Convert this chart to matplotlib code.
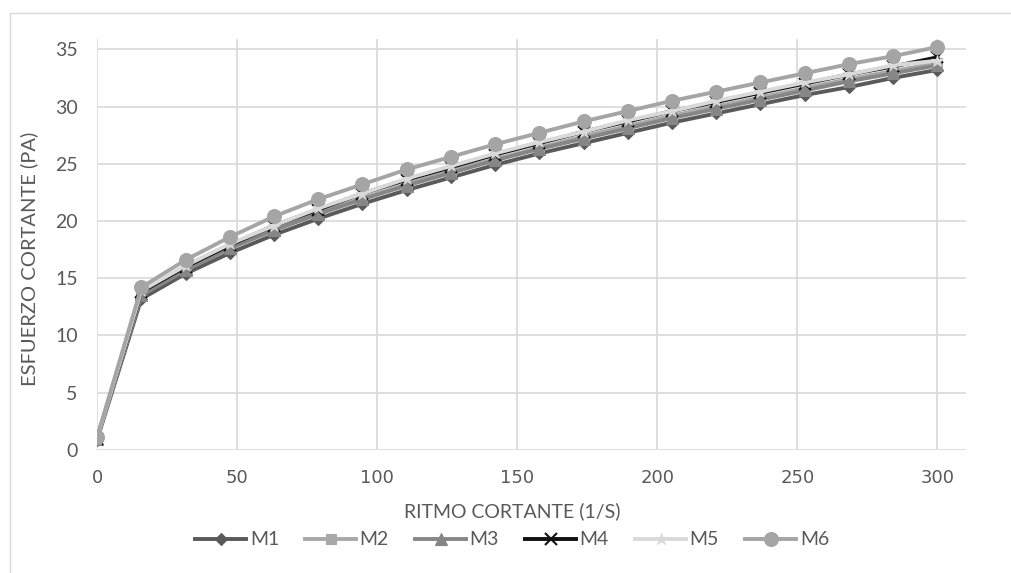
import matplotlib.pyplot as plt
from matplotlib.lines import Line2D

# shear rate (1/s)
rate = [0, 15.8, 31.6, 47.4, 63.2, 78.9, 94.7, 110.5, 126.3, 142.1,
        157.9, 173.7, 189.5, 205.3, 221.1, 236.8, 252.6, 268.4, 284.2, 300]

# shear stress (Pa)
m1 = [0.9, 13.2, 15.4, 17.2, 18.8, 20.2, 21.5, 22.7, 23.8, 24.9,
      25.9, 26.8, 27.7, 28.6, 29.4, 30.2, 31.0, 31.7, 32.5, 33.2]
m2 = [1.0, 13.6, 15.8, 17.7, 19.3, 20.7, 22.0, 23.2, 24.4, 25.4,
      26.4, 27.4, 28.3, 29.2, 30.0, 30.8, 31.6, 32.4, 33.1, 33.8]
m3 = [1.0, 13.5, 15.7, 17.6, 19.2, 20.6, 21.9, 23.1, 24.2, 25.3,
      26.3, 27.2, 28.1, 29.0, 29.8, 30.6, 31.4, 32.2, 32.9, 33.6]
m4 = [1.0, 13.8, 16.0, 17.9, 19.6, 21.0, 22.4, 23.6, 24.7, 25.8,
      26.8, 27.8, 28.7, 29.6, 30.4, 31.2, 32.0, 32.8, 33.5, 34.3]
m5 = [1.0, 13.9, 16.1, 18.0, 19.6, 21.1, 22.4, 23.7, 24.8, 25.9,
      26.9, 27.8, 28.8, 29.6, 30.5, 31.3, 32.1, 32.8, 33.6, 34.0]
m6 = [1.1, 14.2, 16.6, 18.6, 20.4, 21.9, 23.2, 24.5, 25.6, 26.7,
      27.7, 28.7, 29.6, 30.5, 31.3, 32.1, 32.9, 33.7, 34.4, 35.2]

names = ["M1", "M2", "M3", "M4", "M5", "M6"]
series = [m1, m2, m3, m4, m5, m6]
colors = ["#5a5a5a", "#a8a8a8", "#868686", "#111111", "#d9d9d9", "#a5a5a5"]
markers = ["D", "s", "^", "x", "*", "o"]
msizes = [6, 7, 8, 8, 9, 10]
txt = "#595959"

fig = plt.figure(figsize=(10.11, 5.73), dpi=100)
# chart frame (only left and top edges visible in the crop)
fig.add_artist(Line2D([0.0099, 0.0099], [0, 0.977], transform=fig.transFigure,
                      color="#d9d9d9", linewidth=1))
fig.add_artist(Line2D([0.0099, 1], [0.977, 0.977], transform=fig.transFigure,
                      color="#d9d9d9", linewidth=1))

ax = fig.add_axes([0.096, 0.2147, 0.859, 0.7173])

for name, ys, c, mk, ms in zip(names, series, colors, markers, msizes):
    ax.plot(rate, ys, color=c, linewidth=2.8, marker=mk, markersize=ms,
            markeredgewidth=1.5 if mk == "x" else 0.8, markeredgecolor=c,
            markerfacecolor=c, label=name)

ax.set_xlim(0, 310)
ax.set_ylim(0, 35.9)
ax.set_xticks(range(0, 301, 50))
ax.set_yticks(range(0, 36, 5))
ax.grid(True, color="#d9d9d9", linewidth=1.2)
ax.set_axisbelow(True)
for s in ax.spines.values():
    s.set_visible(False)
ax.tick_params(axis="x", length=0, colors=txt, labelsize=13, pad=14)
ax.tick_params(axis="y", length=0, colors=txt, labelsize=14, pad=14)
for lab in ax.get_yticklabels():
    lab.set_family("Lato")

ax.set_xlabel("RITMO CORTANTE (1/S)", color=txt, fontsize=14, family="Lato",
              va="center")
ax.xaxis.set_label_coords(0.478, -0.148)
ax.set_ylabel("ESFUERZO CORTANTE (PA)", color=txt, fontsize=14.5, family="Lato",
              va="center")
ax.yaxis.set_label_coords(-0.078, 0.465)

leg = ax.legend(loc="center", bbox_to_anchor=(0.478, -0.219), ncol=6,
                frameon=False, prop={"family": "Lato", "size": 14},
                handlelength=2.6, columnspacing=1.35, handletextpad=0.2)
for t in leg.get_texts():
    t.set_color(txt)

fig.savefig("out.png", dpi=100)
